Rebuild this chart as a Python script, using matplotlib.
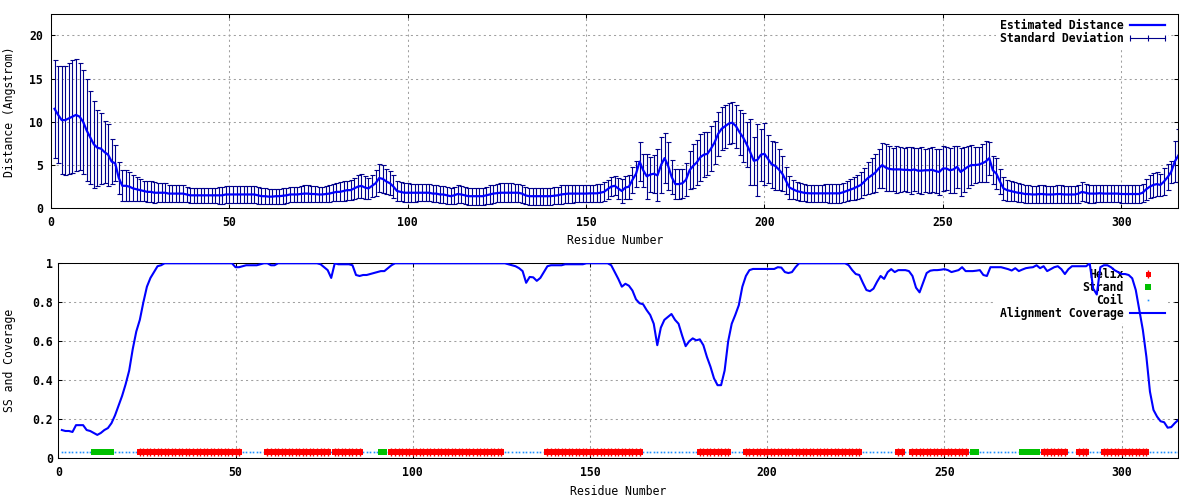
"""
Distance / SS-coverage profile per residue (gnuplot-style figure), saved to out.png
"""
import matplotlib
matplotlib.use("Agg")
import matplotlib.pyplot as plt
from matplotlib.lines import Line2D
from matplotlib.legend_handler import HandlerLine2D
import numpy as np

plt.rcParams["font.family"] = ["DejaVu Sans Mono"]
plt.rcParams["font.weight"] = "bold"
plt.rcParams["font.size"] = 8.3

C_LINE, C_ERR = "#0000ff", "#00008b"
C_HELIX, C_STRAND, C_COIL = "#ff0000", "#00c000", "#1e90ff"
C_GRID = "#a0a0a0"

# ---- data (residues 1..316) ----
dist_mean = [
    11.5, 10.8, 10.2, 10.2, 10.4, 10.6, 10.8, 10.6, 10.0, 9.0,
    8.2, 7.4, 7.0, 6.9, 6.5, 6.2, 5.4, 5.2, 3.5, 2.6,
    2.6, 2.5, 2.3, 2.2, 2.1, 2.0, 1.9, 1.9, 1.8, 1.8,
    1.8, 1.8, 1.7, 1.7, 1.7, 1.7, 1.7, 1.6, 1.5, 1.5,
    1.5, 1.5, 1.5, 1.5, 1.5, 1.5, 1.5, 1.5, 1.6, 1.6,
    1.6, 1.6, 1.6, 1.6, 1.6, 1.6, 1.6, 1.5, 1.4, 1.4,
    1.35, 1.35, 1.4, 1.4, 1.45, 1.5, 1.6, 1.6, 1.6, 1.65,
    1.7, 1.7, 1.65, 1.65, 1.6, 1.6, 1.65, 1.7, 1.8, 1.9,
    1.9, 2.0, 2.1, 2.1, 2.3, 2.5, 2.6, 2.4, 2.3, 2.6,
    2.9, 3.5, 3.4, 3.1, 2.9, 2.5, 2.0, 1.9, 1.8, 1.8,
    1.8, 1.8, 1.8, 1.8, 1.8, 1.8, 1.7, 1.7, 1.6, 1.6,
    1.5, 1.4, 1.5, 1.65, 1.6, 1.5, 1.4, 1.4, 1.4, 1.4,
    1.4, 1.5, 1.6, 1.7, 1.75, 1.8, 1.8, 1.8, 1.8, 1.8,
    1.8, 1.7, 1.5, 1.4, 1.4, 1.4, 1.4, 1.4, 1.4, 1.4,
    1.45, 1.5, 1.6, 1.65, 1.7, 1.7, 1.7, 1.7, 1.7, 1.7,
    1.73, 1.73, 1.73, 1.8, 1.9, 2.2, 2.5, 2.6, 2.3, 2.0,
    2.4, 2.5, 3.3, 4.0, 5.4, 4.4, 3.7, 3.9, 4.0, 3.8,
    5.0, 5.8, 4.9, 3.6, 2.8, 2.8, 2.9, 3.3, 4.4, 4.9,
    5.3, 5.9, 6.2, 6.3, 6.9, 7.6, 8.6, 9.2, 9.5, 9.8,
    9.9, 9.5, 8.8, 8.2, 7.4, 6.5, 5.5, 5.6, 6.2, 6.3,
    5.7, 5.1, 4.9, 4.5, 4.0, 3.2, 2.4, 2.2, 2.0, 1.9,
    1.8, 1.75, 1.73, 1.73, 1.73, 1.73, 1.73, 1.73, 1.73, 1.73,
    1.73, 1.85, 2.0, 2.15, 2.3, 2.5, 2.7, 3.1, 3.5, 3.8,
    4.1, 4.6, 5.0, 4.7, 4.55, 4.5, 4.5, 4.5, 4.45, 4.45,
    4.4, 4.5, 4.35, 4.35, 4.4, 4.4, 4.45, 4.3, 4.2, 4.6,
    4.6, 4.4, 4.5, 4.8, 4.2, 4.5, 4.8, 5.0, 5.0, 5.05,
    5.2, 5.4, 5.8, 4.4, 4.0, 3.1, 2.3, 2.1, 2.0, 1.9,
    1.8, 1.75, 1.65, 1.65, 1.6, 1.6, 1.65, 1.65, 1.6, 1.6,
    1.6, 1.65, 1.65, 1.6, 1.6, 1.6, 1.6, 1.7, 1.9, 1.8,
    1.7, 1.7, 1.7, 1.75, 1.7, 1.7, 1.7, 1.7, 1.7, 1.65,
    1.65, 1.65, 1.65, 1.65, 1.65, 1.8, 2.2, 2.5, 2.7, 2.8,
    2.7, 3.1, 3.6, 4.2, 5.4, 6.1,
]
dist_sd = [
    5.7, 5.6, 6.2, 6.3, 6.4, 6.5, 6.5, 6.2, 6.0, 5.9,
    5.4, 5.0, 4.4, 4.1, 3.6, 3.6, 2.6, 2.1, 1.9, 1.8,
    1.8, 1.7, 1.5, 1.4, 1.3, 1.2, 1.2, 1.2, 1.2, 1.1,
    1.1, 1.1, 1.0, 1.0, 1.0, 1.0, 0.95, 0.9, 0.85, 0.85,
    0.85, 0.85, 0.85, 0.9, 0.9, 0.9, 0.95, 0.95, 1.0, 1.0,
    1.0, 1.0, 1.0, 1.0, 1.0, 1.0, 0.95, 0.95, 0.9, 0.9,
    0.85, 0.85, 0.85, 0.85, 0.9, 0.9, 0.9, 0.9, 0.9, 0.9,
    0.95, 0.95, 0.95, 0.9, 0.9, 0.9, 0.9, 0.95, 1.0, 1.05,
    1.1, 1.1, 1.1, 1.15, 1.2, 1.3, 1.4, 1.3, 1.2, 1.3,
    1.5, 1.6, 1.6, 1.5, 1.4, 1.3, 1.2, 1.1, 1.1, 1.1,
    1.05, 1.05, 1.0, 1.0, 1.0, 1.0, 1.0, 1.0, 1.0, 1.0,
    1.0, 0.95, 0.95, 1.0, 1.0, 1.0, 1.0, 1.0, 1.0, 1.0,
    1.0, 1.0, 1.05, 1.05, 1.05, 1.1, 1.1, 1.1, 1.1, 1.05,
    1.05, 1.05, 1.0, 1.0, 1.0, 1.0, 1.0, 1.0, 1.0, 1.0,
    1.0, 1.0, 1.05, 1.05, 1.05, 1.05, 1.0, 1.0, 1.0, 1.0,
    1.0, 1.0, 1.05, 1.05, 1.1, 1.1, 1.1, 1.1, 1.2, 1.4,
    1.3, 1.4, 1.5, 1.5, 2.3, 1.9, 2.6, 2.0, 2.2, 3.0,
    3.2, 2.9, 2.8, 2.0, 1.7, 1.7, 1.7, 1.9, 2.2, 2.5,
    2.6, 2.7, 2.6, 2.5, 2.6, 2.5, 2.5, 2.5, 2.5, 2.4,
    2.4, 2.5, 2.6, 2.8, 2.6, 3.8, 2.8, 4.2, 3.0, 3.6,
    2.8, 2.7, 2.8, 2.4, 2.0, 1.6, 1.3, 1.1, 1.05, 1.0,
    1.0, 1.0, 1.0, 1.0, 1.0, 1.0, 1.05, 1.1, 1.1, 1.1,
    1.1, 1.1, 1.15, 1.2, 1.3, 1.4, 1.5, 1.6, 1.8, 2.0,
    2.2, 2.3, 2.6, 2.7, 2.6, 2.5, 2.7, 2.6, 2.5, 2.6,
    2.7, 2.5, 2.6, 2.7, 2.5, 2.6, 2.6, 2.5, 2.7, 2.6,
    2.5, 2.6, 2.7, 2.4, 2.8, 2.6, 2.4, 2.3, 2.1, 2.0,
    2.2, 2.4, 1.9, 1.6, 1.8, 1.4, 1.3, 1.2, 1.1, 1.1,
    1.1, 1.05, 1.05, 1.05, 1.0, 1.0, 1.0, 1.0, 1.0, 1.0,
    1.0, 1.05, 1.05, 1.0, 1.0, 1.0, 1.0, 1.05, 1.1, 1.05,
    1.05, 1.05, 1.0, 1.0, 1.0, 1.0, 1.0, 1.0, 1.0, 1.05,
    1.05, 1.05, 1.0, 1.0, 1.0, 1.05, 1.2, 1.3, 1.35, 1.4,
    1.3, 1.6, 1.5, 1.3, 2.4, 3.1,
]
coverage = [
    0.145, 0.14, 0.14, 0.135, 0.17, 0.17, 0.17, 0.145, 0.14, 0.13,
    0.12, 0.13, 0.145, 0.155, 0.18, 0.22, 0.27, 0.32, 0.38, 0.45,
    0.56, 0.65, 0.71, 0.8, 0.88, 0.925, 0.955, 0.985, 0.99, 1.0,
    1.0, 1.0, 1.0, 1.0, 1.0, 1.0, 1.0, 1.0, 1.0, 1.0,
    1.0, 1.0, 1.0, 1.0, 1.0, 1.0, 1.0, 1.0, 1.0, 0.98,
    0.98, 0.985, 0.99, 0.99, 0.99, 0.99, 0.995, 1.0, 1.0, 0.99,
    0.99, 1.0, 1.0, 1.0, 1.0, 1.0, 1.0, 1.0, 1.0, 1.0,
    1.0, 1.0, 1.0, 0.995, 0.98, 0.965, 0.925, 1.0, 0.995, 0.995,
    0.995, 0.995, 0.99, 0.94, 0.935, 0.94, 0.94, 0.945, 0.95, 0.955,
    0.96, 0.96, 0.975, 0.99, 1.0, 1.0, 1.0, 1.0, 1.0, 1.0,
    1.0, 1.0, 1.0, 1.0, 1.0, 1.0, 1.0, 1.0, 1.0, 1.0,
    1.0, 1.0, 1.0, 1.0, 1.0, 1.0, 1.0, 1.0, 1.0, 1.0,
    1.0, 1.0, 1.0, 1.0, 1.0, 1.0, 0.995, 0.99, 0.985, 0.975,
    0.96, 0.90, 0.93, 0.928, 0.91, 0.925, 0.955, 0.985, 0.99, 0.99,
    0.99, 0.99, 0.995, 0.995, 0.995, 0.995, 0.995, 0.995, 1.0, 1.0,
    1.0, 1.0, 1.0, 1.0, 1.0, 0.99, 0.955, 0.92, 0.88, 0.895,
    0.885, 0.86, 0.815, 0.795, 0.79, 0.76, 0.735, 0.69, 0.58, 0.67,
    0.71, 0.725, 0.74, 0.71, 0.69, 0.63, 0.575, 0.6, 0.615, 0.605,
    0.61, 0.58, 0.52, 0.47, 0.41, 0.375, 0.375, 0.45, 0.6, 0.69,
    0.735, 0.785, 0.88, 0.935, 0.965, 0.971, 0.971, 0.971, 0.971, 0.971,
    0.971, 0.971, 0.98, 0.978, 0.955, 0.95, 0.955, 0.98, 1.0, 1.0,
    1.0, 1.0, 1.0, 1.0, 1.0, 1.0, 1.0, 1.0, 1.0, 1.0,
    1.0, 1.0, 0.99, 0.965, 0.945, 0.94, 0.90, 0.863, 0.857, 0.87,
    0.905, 0.935, 0.92, 0.955, 0.97, 0.955, 0.965, 0.965, 0.965, 0.96,
    0.935, 0.875, 0.851, 0.9, 0.95, 0.962, 0.965, 0.965, 0.967, 0.97,
    0.965, 0.955, 0.96, 0.965, 0.98, 0.96, 0.96, 0.96, 0.962, 0.965,
    0.94, 0.935, 0.98, 0.98, 0.98, 0.98, 0.975, 0.97, 0.963, 0.975,
    0.96, 0.968, 0.975, 0.978, 0.98, 0.99, 0.975, 0.985, 0.96, 0.97,
    0.98, 0.985, 0.97, 0.945, 0.97, 0.985, 0.985, 0.985, 0.985, 0.985,
    1.0, 0.87, 0.84, 0.98, 0.99, 0.99, 0.98, 0.965, 0.955, 0.945,
    0.945, 0.94, 0.923, 0.863, 0.76, 0.658, 0.52, 0.342, 0.248, 0.214,
    0.19, 0.185, 0.157, 0.16, 0.18, 0.197,
]
# secondary structure segments (first, last residue)
helix_segments = [(23, 51), (59, 76), (78, 85), (94, 125), (138, 164), (181, 189),
                  (194, 226), (237, 238), (241, 256), (278, 284), (288, 290), (295, 307)]
strand_segments = [(10, 15), (91, 92), (258, 259), (272, 276)]
ss_level = 0.03

n_res = len(dist_mean)
res = np.arange(1, n_res + 1)
ss = np.full(n_res, "C")
for a, b in helix_segments:
    ss[a - 1:b] = "H"
for a, b in strand_segments:
    ss[a - 1:b] = "E"


def style(ax, ylim, yticks, ypad):
    ax.set_xlim(0, n_res)
    ax.set_ylim(*ylim)
    ax.set_xticks(range(0, 301, 50))
    ax.set_yticks(yticks)
    ax.yaxis.set_major_formatter(plt.FuncFormatter(lambda v, p: f"{v:g}"))
    ax.grid(True, color=C_GRID, lw=0.75, ls=(0, (2, 3)))
    ax.tick_params(direction="in", length=3, width=0.75, top=True, right=True)
    ax.tick_params(axis="x", pad=5.5)
    ax.tick_params(axis="y", pad=ypad)
    for s in ax.spines.values():
        s.set_linewidth(0.75)
    ax.set_xlabel("Residue Number")
    ax.xaxis.set_label_coords(0.5, -0.135)


fig = plt.figure(figsize=(12, 5), dpi=100)
ax1 = fig.add_axes([51 / 1200, 1 - 208.3 / 500, 1127.3 / 1200, 194 / 500])
ax2 = fig.add_axes([58.3 / 1200, 1 - 458.3 / 500, 1120 / 1200, 195 / 500])

# ===== top: estimated distance =====
ax1.errorbar(res, dist_mean, yerr=dist_sd, fmt="none", ecolor=C_ERR, elinewidth=0.8,
             capsize=1.8, capthick=0.8, zorder=2)
ax1.plot(res, dist_mean, color=C_LINE, lw=1.6, zorder=3)
style(ax1, (0, 22.43), [0, 5, 10, 15, 20], 6)
ax1.set_ylabel("Distance (Angstrom)")
ax1.yaxis.set_label_coords(-0.031, 0.5)

h_mean = Line2D([], [], color=C_LINE, lw=1.6)
h_sd = Line2D([], [], color=C_ERR, lw=0.8, marker="|", ms=5, mew=0.8)
leg_kw = dict(loc="upper right", markerfirst=False, frameon=True, fancybox=False, framealpha=1,
              edgecolor="none", facecolor="white", borderpad=0.3, handlelength=3.0,
              handletextpad=0.6, labelspacing=0.0, borderaxespad=0)
leg1 = ax1.legend([h_mean, h_sd], ["Estimated Distance", "Standard Deviation"],
                  bbox_to_anchor=(0.9913, 0.995),
                  handler_map={h_sd: HandlerLine2D(numpoints=3, marker_pad=0)}, **leg_kw)
leg1.set_zorder(1.8)

# ===== bottom: SS and coverage =====
for code, kw in (("C", dict(marker="s", ms=1.2, color=C_COIL)),
                 ("E", dict(marker="s", ms=4.8, color=C_STRAND)),
                 ("H", dict(marker="s", ms=4.3, color=C_HELIX))):
    sel = res[ss == code]
    ax2.plot(sel, np.full(len(sel), ss_level), ls="none", mew=0, zorder=2, **kw)
sel = res[ss == "H"]
ax2.plot(sel, np.full(len(sel), ss_level), ls="none", marker="|", ms=6, mew=1.0,
         color=C_HELIX, zorder=2)
ax2.plot(res, coverage, color=C_LINE, lw=1.5, zorder=3)
style(ax2, (0, 1), [0, 0.2, 0.4, 0.6, 0.8, 1.0], 3.6)
ax2.set_ylabel("SS and Coverage")
ax2.yaxis.set_label_coords(-0.0378, 0.5)

h_helix = (Line2D([], [], ls="none", marker="s", ms=3.6, mew=0, color=C_HELIX),
           Line2D([], [], ls="none", marker="|", ms=5.5, mew=1.0, color=C_HELIX))
h_strand = Line2D([], [], ls="none", marker="s", ms=4.8, mew=0, color=C_STRAND)
h_coil = Line2D([], [], ls="none", marker="s", ms=1.2, mew=0, color=C_COIL)
h_cov = Line2D([], [], color=C_LINE, lw=1.5)
leg2 = ax2.legend([h_helix, h_strand, h_coil, h_cov],
                  ["Helix", "Strand", "Coil", "Alignment Coverage"],
                  bbox_to_anchor=(0.9912, 0.996), **leg_kw)
leg2.set_zorder(1.8)

fig.savefig("out.png", dpi=100)
